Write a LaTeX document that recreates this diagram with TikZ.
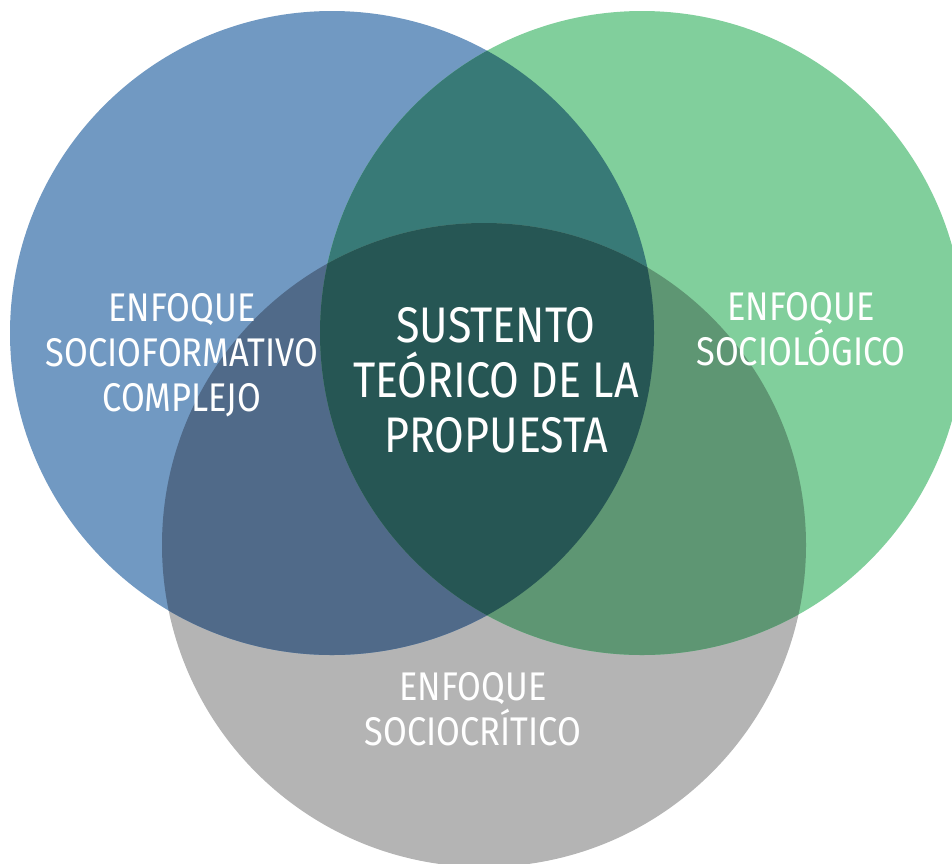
\documentclass[tikz,border=0pt]{standalone}
\usepackage{fontspec}
\setmainfont{Fira Sans}[FakeStretch=0.86]
\definecolor{cblue}{HTML}{7199C2}
\definecolor{cgreen}{HTML}{81CF9C}
\definecolor{cgrey}{HTML}{B4B4B4}
\definecolor{cbg}{HTML}{387A77}
\definecolor{cbgr}{HTML}{506A89}
\definecolor{cggr}{HTML}{5E9673}
\definecolor{call}{HTML}{265654}
\tikzset{
  lbl/.style={text=white, align=center, inner sep=0pt, font=\fontsize{40}{45}\selectfont},
  mainlbl/.style={text=white, align=center, inner sep=0pt, font=\fontsize{50}{55}\selectfont},
}
\begin{document}
\begin{tikzpicture}[x=1pt,y=-1pt]
\useasboundingbox (0,0) rectangle (952,863);
\clip (0,0) rectangle (952,863);
\def\R{322}
\coordinate (B) at (332,333);
\coordinate (G) at (642,333);
\coordinate (S) at (484,545);
% base circles
\fill[cgrey] (S) circle (\R);
\fill[cblue] (B) circle (\R);
\fill[cgreen] (G) circle (\R);
% pairwise overlaps
\begin{scope}
  \clip (B) circle (\R);
  \fill[cbg] (G) circle (\R);
\end{scope}
\begin{scope}
  \clip (B) circle (\R);
  \fill[cbgr] (S) circle (\R);
\end{scope}
\begin{scope}
  \clip (G) circle (\R);
  \fill[cggr] (S) circle (\R);
\end{scope}
% triple overlap
\begin{scope}
  \clip (B) circle (\R);
  \clip (G) circle (\R);
  \fill[call] (S) circle (\R);
\end{scope}
% labels
\node[lbl] (lblue) at (182,355) {ENFOQUE\\SOCIOFORMATIVO\\COMPLEJO};
\node[lbl] (lgreen) at (801,329) {ENFOQUE\\SOCIOLÓGICO};
\node[lbl] (lgrey) at (473,709) {ENFOQUE\\SOCIOCRÍTICO};
\node[mainlbl] (lmain) at (496,380) {SUSTENTO\\TEÓRICO DE LA\\PROPUESTA};
\end{tikzpicture}
\end{document}
